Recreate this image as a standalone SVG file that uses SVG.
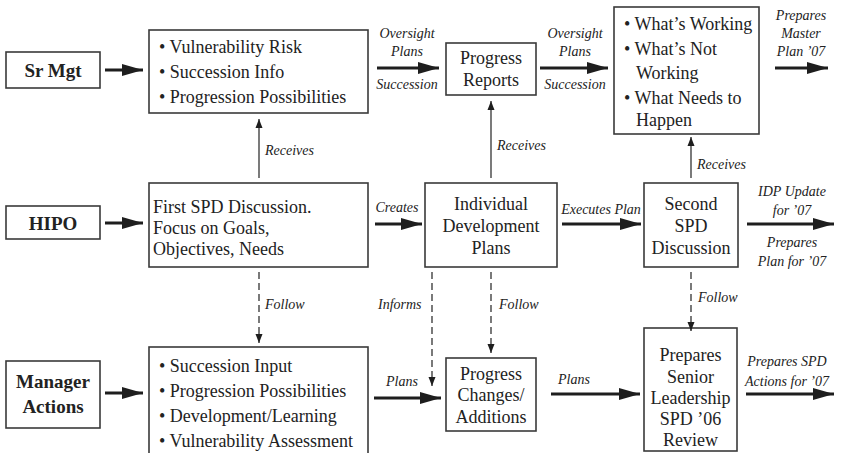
<svg xmlns="http://www.w3.org/2000/svg" width="841" height="453" viewBox="0 0 841 453">
<defs>
<marker id="big" markerUnits="userSpaceOnUse" markerWidth="22" markerHeight="14" refX="21" refY="7" orient="auto">
<path d="M0,1 L21,7 L0,13 Z" fill="#1e1e1e"/>
</marker>
<marker id="small" markerUnits="userSpaceOnUse" markerWidth="10" markerHeight="10" refX="9" refY="5" orient="auto">
<path d="M0,1.5 L9,5 L0,8.5 Z" fill="#1e1e1e"/>
</marker>
</defs>
<style>
.box{fill:#fff;stroke:#3a3a3a;stroke-width:1.6}
.t,.b,.l{font-family:"Liberation Serif","Times New Roman",Times,"DejaVu Serif",serif;fill:#222}
.t{font-size:18px}
.b{font-size:19px;font-weight:bold}
.c{text-anchor:middle}
.l{font-size:14px;font-style:italic}
.thick{stroke:#1e1e1e;stroke-width:3;fill:none;marker-end:url(#big)}
.thin{stroke:#333;stroke-width:1.3;fill:none;marker-end:url(#small)}
.dash{stroke:#333;stroke-width:1.3;fill:none;stroke-dasharray:7,4;marker-end:url(#small)}
</style>
<g id="sr-mgt"><rect class="box" x="6" y="52" width="94" height="36"/><text class="b c" x="53" y="77">Sr Mgt</text></g>
<g id="hipo"><rect class="box" x="6" y="206" width="94" height="33"/><text class="b c" x="53" y="230">HIPO</text></g>
<g id="manager-actions"><rect class="box" x="6" y="361" width="94" height="67"/><text class="b c" x="53" y="388">Manager</text><text class="b c" x="53" y="413">Actions</text></g>
<g id="sr-info"><rect class="box" x="149" y="30" width="219" height="83"/>
<text class="t" x="159" y="53">• Vulnerability Risk</text>
<text class="t" x="159" y="78">• Succession Info</text>
<text class="t" x="159" y="103">• Progression Possibilities</text></g>
<g id="progress-reports"><rect class="box" x="446" y="43" width="90" height="52"/><text class="t c" x="491" y="64">Progress</text><text class="t c" x="491" y="86">Reports</text></g>
<g id="whats-working"><rect class="box" x="614" y="7" width="145" height="127"/>
<text class="t" x="624" y="30">• What’s Working</text>
<text class="t" x="624" y="55">• What’s Not</text>
<text class="t" x="636" y="79">Working</text>
<text class="t" x="624" y="104">• What Needs to</text>
<text class="t" x="636" y="126">Happen</text></g>
<g id="first-spd"><rect class="box" x="149" y="183" width="219" height="84"/>
<text class="t" x="153" y="213">First SPD Discussion.</text>
<text class="t" x="153" y="234">Focus on Goals,</text>
<text class="t" x="153" y="255">Objectives, Needs</text></g>
<g id="idp"><rect class="box" x="425" y="183" width="132" height="84"/>
<text class="t c" x="491" y="210">Individual</text><text class="t c" x="491" y="232">Development</text><text class="t c" x="491" y="254">Plans</text></g>
<g id="second-spd"><rect class="box" x="644" y="183" width="94" height="84"/>
<text class="t c" x="691" y="210">Second</text><text class="t c" x="691" y="232">SPD</text><text class="t c" x="691" y="254">Discussion</text></g>
<g id="mgr-list"><rect class="box" x="149" y="347" width="219" height="120"/>
<text class="t" x="159" y="372">• Succession Input</text>
<text class="t" x="159" y="397">• Progression Possibilities</text>
<text class="t" x="159" y="422">• Development/Learning</text>
<text class="t" x="159" y="447">• Vulnerability Assessment</text></g>
<g id="progress-changes"><rect class="box" x="446" y="358" width="90" height="73"/>
<text class="t c" x="491" y="380">Progress</text><text class="t c" x="491" y="401">Changes/</text><text class="t c" x="491" y="423">Additions</text></g>
<g id="prepares-senior"><rect class="box" x="644" y="328" width="93" height="123"/>
<text class="t c" x="690.5" y="361">Prepares</text><text class="t c" x="690.5" y="383">Senior</text><text class="t c" x="690.5" y="404">Leadership</text><text class="t c" x="690.5" y="425">SPD ’06</text><text class="t c" x="690.5" y="446">Review</text></g>
<g id="connectors">
<line class="thick" x1="105" y1="70" x2="143" y2="70"/>
<line class="thick" x1="105" y1="223" x2="143" y2="223"/>
<line class="thick" x1="105" y1="393" x2="143" y2="393"/>
<line class="thick" x1="377" y1="68" x2="439" y2="68"/>
<line class="thick" x1="540" y1="68" x2="608" y2="68"/>
<line class="thick" x1="775" y1="68" x2="828" y2="68"/>
<line class="thick" x1="375" y1="224" x2="422" y2="224"/>
<line class="thick" x1="562" y1="224" x2="641" y2="224"/>
<line class="thick" x1="747" y1="224" x2="834" y2="224"/>
<line class="thick" x1="374" y1="398" x2="441" y2="398"/>
<line class="thick" x1="551" y1="394" x2="640" y2="394"/>
<line class="thick" x1="746" y1="394" x2="834" y2="394"/>
<line class="thin" x1="259" y1="178" x2="259" y2="119"/>
<line class="thin" x1="491" y1="178" x2="491" y2="101"/>
<line class="thin" x1="691" y1="178" x2="691" y2="137"/>
<line class="dash" x1="259" y1="272" x2="259" y2="343"/>
<line class="dash" x1="432" y1="272" x2="432" y2="386"/>
<line class="dash" x1="491" y1="272" x2="491" y2="353"/>
<line class="dash" x1="691" y1="272" x2="691" y2="331"/>
</g>
<g id="labels">
<text class="l c" x="407" y="38">Oversight</text>
<text class="l c" x="407" y="56">Plans</text>
<text class="l c" x="407" y="89">Succession</text>
<text class="l c" x="575" y="38">Oversight</text>
<text class="l c" x="575" y="56">Plans</text>
<text class="l c" x="575" y="89">Succession</text>
<text class="l c" x="801" y="20">Prepares</text>
<text class="l c" x="801" y="38">Master</text>
<text class="l c" x="801" y="56">Plan ’07</text>
<text class="l" x="265" y="155">Receives</text>
<text class="l" x="497" y="150">Receives</text>
<text class="l" x="697" y="169">Receives</text>
<text class="l c" x="397" y="212">Creates</text>
<text class="l c" x="601" y="214">Executes Plan</text>
<text class="l c" x="792" y="196">IDP Update</text>
<text class="l c" x="792" y="215">for ’07</text>
<text class="l c" x="792" y="247">Prepares</text>
<text class="l c" x="792" y="266">Plan for ’07</text>
<text class="l" x="265" y="309">Follow</text>
<text class="l" x="378" y="309">Informs</text>
<text class="l" x="499" y="309">Follow</text>
<text class="l" x="698" y="302">Follow</text>
<text class="l c" x="402" y="386">Plans</text>
<text class="l c" x="574" y="384">Plans</text>
<text class="l c" x="787" y="366">Prepares SPD</text>
<text class="l c" x="787" y="386">Actions for ’07</text>
</g>
</svg>
